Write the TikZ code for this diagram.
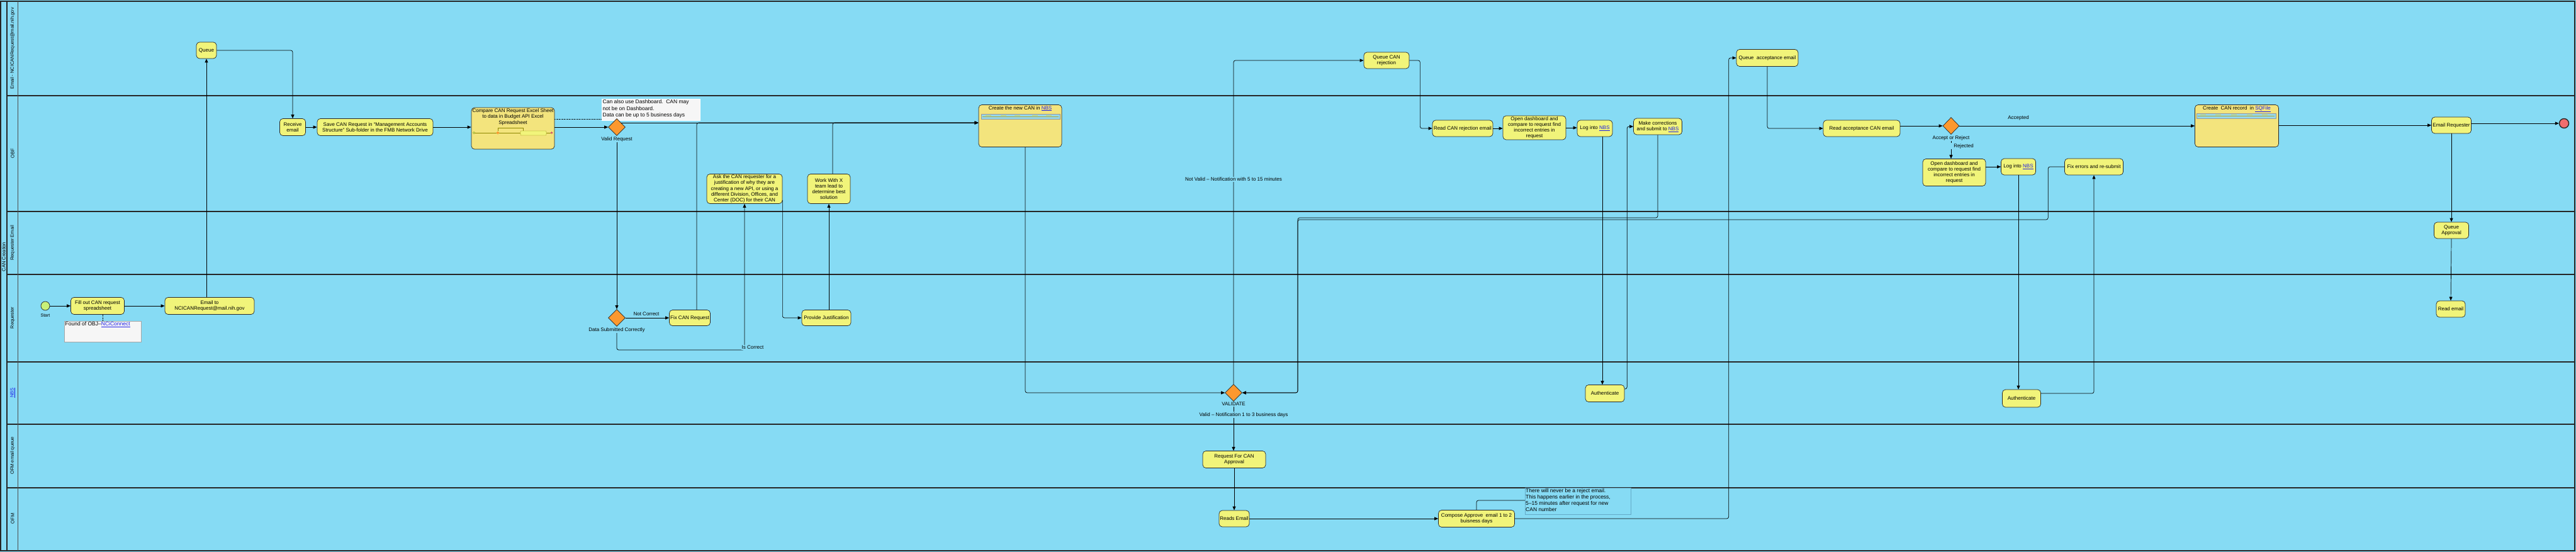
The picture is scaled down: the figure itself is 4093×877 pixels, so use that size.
\documentclass[tikz,border=0pt]{standalone}
\usepackage{fontspec}
\setmainfont{Liberation Sans}
\usetikzlibrary{arrows.meta,shapes.geometric,calc}
\definecolor{lanebg}{RGB}{134,219,244}
\definecolor{taskfill}{RGB}{241,244,122}
\definecolor{subfill}{RGB}{243,228,125}
\definecolor{gwfill}{RGB}{252,152,46}
\definecolor{startfill}{RGB}{200,240,120}
\definecolor{endfill}{RGB}{240,110,110}
\definecolor{edgecol}{RGB}{40,40,40}
\definecolor{linkblue}{RGB}{30,30,230}
\definecolor{notefill}{RGB}{246,246,246}
\definecolor{stripfill}{RGB}{150,215,235}
\definecolor{note3col}{RGB}{100,170,200}
\newcommand{\lnk}[1]{\textcolor{linkblue}{\underline{#1}}}
\newcommand{\fs}{\fontsize{8}{9.2}\selectfont}
\newcommand{\fl}{\fontsize{7.5}{9}\selectfont}
\newcommand{\fn}{\fontsize{8.5}{10.2}\selectfont}
\tikzset{
  task/.style={draw=edgecol, line width=0.7pt, fill=taskfill, rounded corners=5pt, align=center, font=\fs, inner sep=1pt},
  subp/.style={task, fill=subfill},
  gw/.style={diamond, draw=edgecol, line width=0.7pt, fill=gwfill, minimum width=27pt, minimum height=27pt, inner sep=0pt},
  flow/.style={draw=black, line width=0.7pt, rounded corners=3pt, -{Triangle[length=6pt,width=5pt]}},
  plainline/.style={draw=black, line width=0.7pt, rounded corners=3pt},
  lbl/.style={font=\fs, inner sep=1pt},
  lblf/.style={lbl, fill=lanebg},
  notebox/.style={draw=gray!70, fill=notefill, line width=0.5pt, inner sep=0pt, anchor=north west},
  notetext/.style={font=\fn, align=left, inner sep=1.5pt, anchor=north west},
  lane/.style={draw=black!85, line width=1.2pt},
  lanelbl/.style={rotate=90, font=\fl, inner sep=0pt},
  thin0/.style={line width=0.3pt, draw=olive},
}
\begin{document}
\begin{tikzpicture}[x=1pt,y=-1pt]
\useasboundingbox (0,0) rectangle (4093,877);
\fill[lanebg] (0,0) rectangle (4093,877);
% lanes
\foreach \yy in {152,336,436,575,674,775} \draw[lane] (11,\yy) -- (4091,\yy);
\draw[lane] (1,2) rectangle (4091,875);
\draw[lane] (11,2) -- (11,875);
\draw[line width=0.6pt, black!70] (28,2) -- (28,875);
\node[lanelbl, font=\fl] (pool) at (6,408) {CAN Creation};
\node[lanelbl] (l1) at (20,77) {Email - NCICANRequest@mail.nih.gov};
\node[lanelbl] (l2) at (20,244) {OBF};
\node[lanelbl] (l3) at (20,386) {Requester Email};
\node[lanelbl] (l4) at (20,505) {Requester};
\node[lanelbl] (l5) at (20,624) {\lnk{NBS}};
\node[lanelbl] (l6) at (20,724) {OFM email queue};
\node[lanelbl] (l7) at (20,824) {OFM};

% ---------- nodes ----------
\node[circle, draw=edgecol, fill=startfill, minimum size=14pt, inner sep=0pt, line width=0.7pt] (start) at (72,486) {};
\node[task, minimum width=85pt, minimum height=27pt] (fillout) at (155,486) {Fill out CAN request\\spreadsheet};
\node[task, minimum width=142pt, minimum height=27pt] (email) at (333,486) {Email to\\NCICANRequest@mail.nih.gov};
\node[notebox, minimum width=122pt, minimum height=33pt] (note1) at (102,510) {};
\node[notetext] (note1t) at (note1.north west) {Found of OBJ--\lnk{NCiConnect}};

\node[task, minimum width=32pt, minimum height=26pt] (queue) at (328,80) {Queue};
\node[task, minimum width=41pt, minimum height=27pt] (recv) at (465,202) {Receive\\email};
\node[task, minimum width=184pt, minimum height=27pt] (save) at (596,202) {Save CAN Request in ``Management Accounts\\Structure'' Sub-folder in the FMB Network Drive};
\node[subp, minimum width=132pt, minimum height=66pt] (compare) at (815,204) {};
\node[lbl, anchor=north, align=center] (comparet) at ([yshift=-1pt]compare.north) {Compare CAN Request Excel Sheet\\to data in Budget API Excel\\Spreadsheet};
% compare thumbnail
\draw[thin0] (753,211) -- (827,211);
\draw[thin0] (791,208) |- (831,203) -- (831,208);
\draw[fill=startfill, draw=olive, line width=0.3pt] (753,211) circle (1.6pt);
\node[diamond, fill=gwfill, inner sep=0pt, minimum size=5pt] (tgw) at (791,211) {};
\draw[fill=taskfill, draw=olive, line width=0.3pt, rounded corners=1pt] (827,208) rectangle (868,215);
\draw[thin0] (868,211) -- (875,211);
\draw[fill=purple!50, draw=purple, line width=0.3pt] (876.5,211) circle (1.3pt);

\node[notebox, draw=white, minimum width=156pt, minimum height=34pt] (note2) at (956,157) {};
\node[notetext] (note2t) at (note2.north west) {Can also use Dashboard.\ \ CAN may\\not be on Dashboard.\\Data can be up to 5 business days};

\node[gw] (valid) at (980,202) {};
\node[gw] (dsc) at (980,505) {};
\node[task, minimum width=65pt, minimum height=25pt] (fixcan) at (1096,505) {Fix CAN Request};
\node[task, minimum width=120pt, minimum height=47pt] (ask) at (1183,300) {Ask the CAN requester for a\\justification of why they are\\creating a new API, or using a\\different Division, Offices, and\\Center (DOC) for their CAN};
\node[task, minimum width=78pt, minimum height=25pt] (prov) at (1313,505) {Provide Justification};
\node[task, minimum width=68pt, minimum height=47pt] (work) at (1317,300) {Work With X\\team lead to\\determine best\\solution};

\node[subp, minimum width=132pt, minimum height=67pt] (create) at (1621,200) {};
\node[lbl, anchor=north] (createt) at ([yshift=-1pt]create.north) {Create the new CAN in \lnk{NBS}};
\draw[fill=stripfill, draw=black!40, line width=0.4pt] (1559,181) rectangle (1684,189);
\draw[thin0, draw=olive!70] (1561,185) -- (1682,185);
\foreach \xx in {1566,1590,1612,1640,1662} \draw[line width=0.6pt, draw=taskfill!70!olive] (\xx,183.5) -- ++(9,0);

\node[gw] (validate) at (1960,624) {};
\node[task, minimum width=100pt, minimum height=27pt] (reqapp) at (1961,730) {Request For CAN\\Approval};
\node[task, minimum width=48pt, minimum height=26pt] (reads) at (1961,824) {Reads Email};
\node[task, minimum width=121pt, minimum height=27pt] (compose) at (2346,824) {Compose Approve\ \ email 1 to 2\\buisness days};
\node[notebox, draw=note3col, fill=none, minimum width=168pt, minimum height=42pt] (note3) at (2423,775) {};
\node[notetext, inner sep=1pt] (note3t) at (note3.north west) {There will never be a reject email.\\This happens earlier in the process,\\5--15 minutes after request for new\\CAN number};

\node[task, minimum width=72pt, minimum height=26pt] (qrej) at (2203,96) {Queue CAN\\rejection};
\node[task, minimum width=96pt, minimum height=26pt] (readrej) at (2324,204) {Read CAN rejection email};
\node[task, minimum width=100pt, minimum height=38pt] (open1) at (2438,203) {Open dashboard and\\compare to request find\\incorrect entries in\\request};
\node[task, minimum width=56pt, minimum height=26pt] (log1) at (2534,204) {Log into \lnk{NBS}};
\node[task, minimum width=77pt, minimum height=26pt] (make) at (2634,201) {Make corrections\\and submit to \lnk{NBS}};
\node[task, minimum width=62pt, minimum height=27pt] (auth1) at (2550,625) {Authenticate};

\node[task, minimum width=98pt, minimum height=27pt] (qacc) at (2808,92) {Queue\ \ acceptance email};
\node[task, minimum width=122pt, minimum height=26pt] (readacc) at (2958,204) {Read acceptance CAN email};
\node[gw, minimum width=26pt] (accrej) at (3100,200) {};
\node[task, minimum width=100pt, minimum height=43pt] (open2) at (3105,274) {Open dashboard and\\compare to request find\\incorrect entries in\\request};
\node[task, minimum width=55pt, minimum height=26pt] (log2) at (3207,265) {Log into \lnk{NBS}};
\node[task, minimum width=61pt, minimum height=28pt] (auth2) at (3212,633) {Authenticate};
\node[task, minimum width=93pt, minimum height=26pt] (fix) at (3327,265) {Fix errors and re-submit};

\node[subp, minimum width=133pt, minimum height=67pt] (createrec) at (3554,200) {};
\node[lbl, anchor=north] (createrect) at ([yshift=-1pt]createrec.north) {Create\ \ CAN record\ \ in \lnk{SQFile}};
\draw[fill=stripfill, draw=black!40, line width=0.4pt] (3490,180) rectangle (3616,188);
\draw[thin0, draw=olive!70] (3492,184) -- (3614,184);
\foreach \xx in {3496,3520,3545,3570,3594} \draw[line width=0.6pt, draw=taskfill!70!olive] (\xx,182.5) -- ++(9,0);

\node[task, minimum width=63pt, minimum height=26pt] (emailreq) at (3895,199) {Email Requester};
\node[circle, draw=edgecol, fill=endfill, minimum size=15pt, inner sep=0pt, line width=1.4pt] (endev) at (4074,196) {};
\node[task, minimum width=55pt, minimum height=26pt] (qappr) at (3895,366) {Queue\\Approval};
\node[task, minimum width=46pt, minimum height=26pt] (reademail) at (3894,491) {Read email};

% ---------- connectors ----------
\draw[flow] (start) -- (fillout);
\draw[flow] (fillout) -- (email);
\draw[densely dotted, line width=0.6pt] (note1.north |- fillout.south) -- (note1.north);
\draw[flow] (email.north -| queue.south) -- (queue.south);
\draw[flow] (queue.east) -| (recv.north);
\draw[flow] (recv) -- (save);
\draw[flow] (save.east) -- (save.east -| compare.west);
\draw[flow] (valid.west -| compare.east) -- (valid.west);
\coordinate (n2a) at ($(note2.south west)+(0,-2)$);
\draw[densely dotted, line width=0.6pt] (n2a -| compare.east) -- (n2a);

\coordinate (vy) at (valid.north east);
\draw[flow] (vy) -- (vy -| create.west);
\draw[flow] ([xshift=11pt]fixcan.north) |- (vy -| create.west);
\draw[flow] ([xshift=6pt]work.north) |- (vy -| create.west);
\draw[flow] (valid.south) -- (dsc.north);
\draw[flow] (dsc.east) -- (fixcan.west);
\coordinate (icc) at (1183,556);
\draw[flow] (dsc.south) |- (icc) -- (ask.south);
\draw[flow] (ask.east |- 0,318) |- (prov.west);
\draw[flow] (prov.north -| work.south) -- (work.south);

\draw[flow] ([xshift=8pt]create.south) |- (validate.west);
\draw[flow] (validate.north) |- (qrej.west);
\draw[flow] (validate.south) -- (validate.south |- reqapp.north);
\draw[flow] (reqapp.south) -- (reads.north);
\draw[flow] (reads.east) -- (compose.west);
\draw[plainline] (compose.north) |- ($(note3.north west)+(0,20)$);
\draw[flow] (compose.east) -| ([xshift=-12pt]qacc.west) -- (qacc.west);

\draw[flow] (qrej.east) -- ++(17,0) |- (readrej.west);
\draw[flow] (readrej.east) -- (readrej.east -| open1.west);
\draw[flow] (open1.east) -- (open1.east -| log1.west);
\draw[flow] ([xshift=12pt]log1.south) -- ([xshift=12pt]log1.south |- auth1.north);
\draw[flow] ([yshift=7pt]auth1.east) -| ([xshift=-10pt]make.west) -- (make.west);
\coordinate (m1) at (2062,346);
\coordinate (m2) at (2062,349);
\draw[flow] (make.south) |- (m1) |- (validate.east);
\draw[flow] (fix.west) -- ++(-26,0) |- (m2) |- (validate.east);

\draw[flow] (qacc.south) |- (readacc.west);
\draw[flow] (accrej.west -| readacc.east) -- (accrej.west);
\draw[flow] (accrej.east) -- (accrej.east -| createrec.west);
\draw[flow] (accrej.south) -- (accrej.south |- open2.north);
\draw[flow] (log2.west -| open2.east) -- (log2.west);
\draw[flow] (log2.south) -- (log2.south |- auth2.north);
\draw[flow] ([yshift=8pt]auth2.east) -| (fix.south);
\draw[flow] (emailreq.west -| createrec.east) -- (emailreq.west);
\draw[flow] (endev.west -| emailreq.east) -- (endev.west);
\draw[flow] (emailreq.south) -- (qappr.north);
\draw[flow] (qappr.south) -- (reademail.north);

% ---------- labels ----------
\node[lbl, font=\fontsize{7}{8}\selectfont] (startl) at (72,501) {Start};
\node[lblf] (validl) at (980,221) {Valid Request};
\node[lblf] (dscl) at (980,524) {Data Submitted Correctly};
\node[lbl] (ncl) at (1027,499) {Not Correct};
\node[lblf] (icl) at (1196,552) {Is Correct};
\node[lblf] (validatel) at (1960,642) {VALIDATE};
\node[lblf] (vnl) at (1976,659) {Valid -- Notification 1 to 3 business days};
\node[lblf] (nvl) at (1960,285) {Not Valid -- Notification with 5 to 15 minutes};
\node[lblf] (arl) at (3100,219) {Accept or Reject};
\node[lbl, fill=lanebg, inner xsep=3pt] (rjl) at (3118,232) {\hspace{4pt}Rejected};
\node[lbl] (acl) at (3207,187) {Accepted};
\end{tikzpicture}
\end{document}
